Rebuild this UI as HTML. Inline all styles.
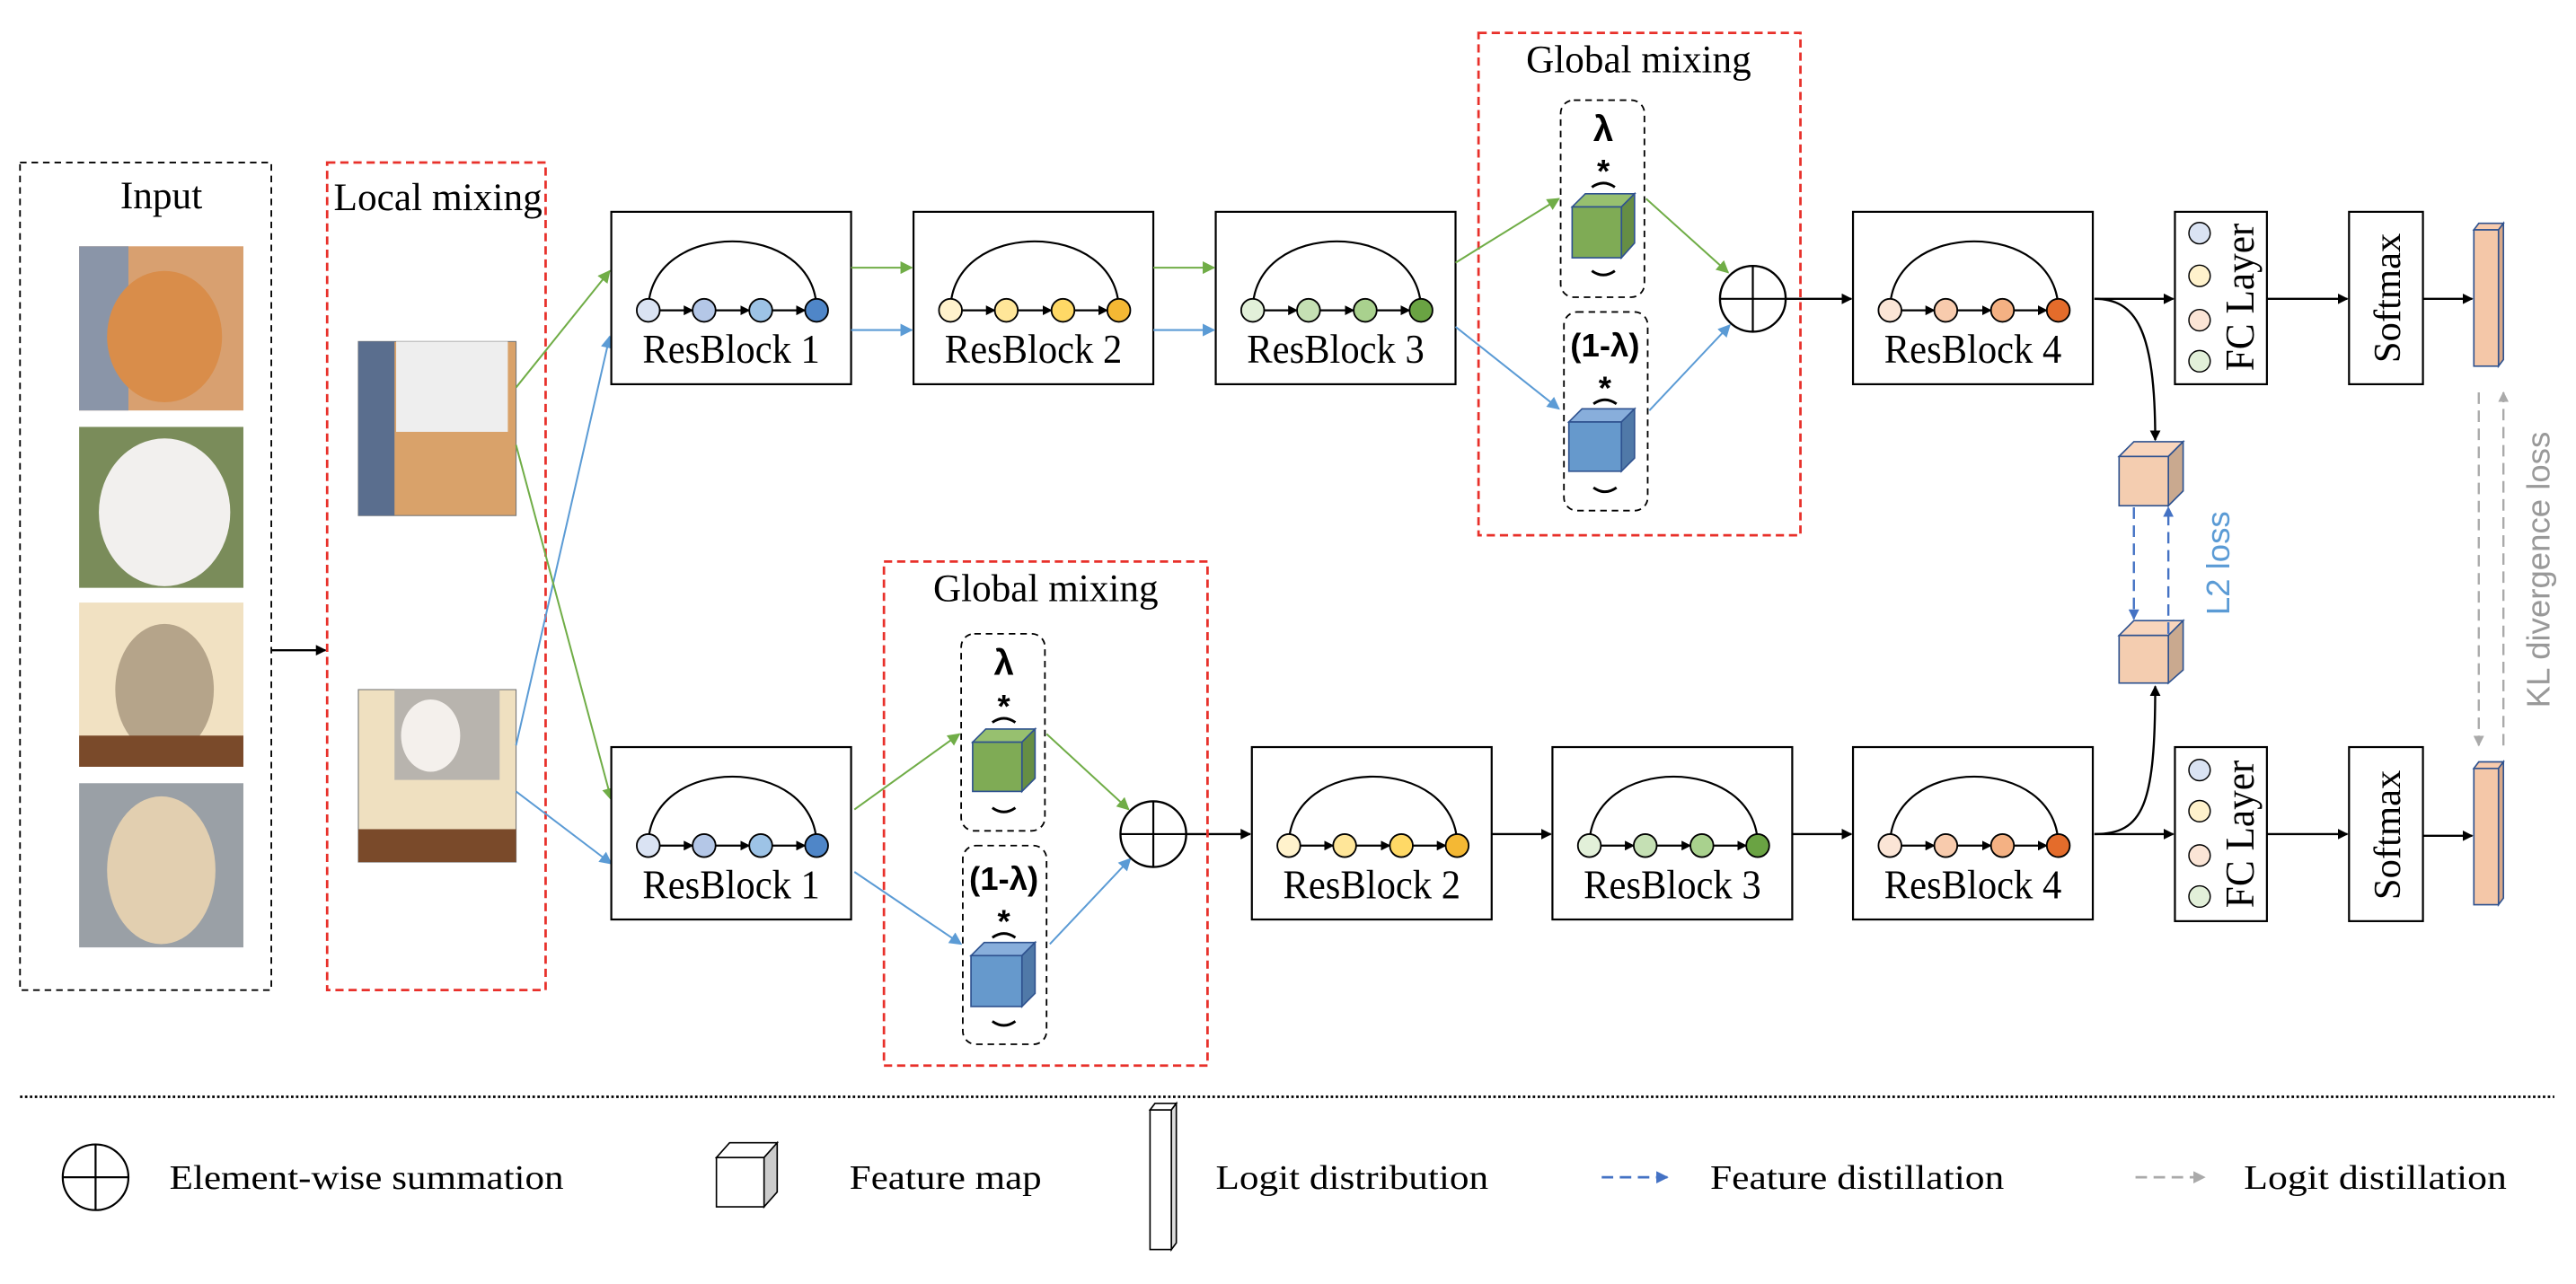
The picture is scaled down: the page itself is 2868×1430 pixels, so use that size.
<!DOCTYPE html>
<html><head><meta charset="utf-8"><style>
html,body{margin:0;padding:0;background:#fff;}
svg{display:block;}
.s{font-family:"Liberation Serif",serif;fill:#000;}
.a{font-family:"Liberation Sans",sans-serif;fill:#000;}
</style></head><body>
<svg width="2868" height="1430" viewBox="0 0 1568 782" xmlns="http://www.w3.org/2000/svg">
<defs>
<marker id="mk" viewBox="0 0 10 10" refX="9" refY="5" markerWidth="5" markerHeight="5" orient="auto"><path d="M0,0L10,5L0,10z" fill="#000"/></marker>
<marker id="mg" viewBox="0 0 10 10" refX="9" refY="5" markerWidth="7" markerHeight="7" orient="auto"><path d="M0,0L10,5L0,10z" fill="#70ad47"/></marker>
<marker id="mb" viewBox="0 0 10 10" refX="9" refY="5" markerWidth="7" markerHeight="7" orient="auto"><path d="M0,0L10,5L0,10z" fill="#5b9bd5"/></marker>
<marker id="md" viewBox="0 0 10 10" refX="9" refY="5" markerWidth="5" markerHeight="5" orient="auto"><path d="M0,0L10,5L0,10z" fill="#4472c4"/></marker>
<marker id="my" viewBox="0 0 10 10" refX="9" refY="5" markerWidth="5" markerHeight="5" orient="auto"><path d="M0,0L10,5L0,10z" fill="#aaa"/></marker>
<g id="rbarc">
<rect x="0" y="0" width="146" height="105" fill="#fff" stroke="#000" stroke-width="1.2"/>
<path d="M22.5,60 C22.5,4 125,4 125,60" fill="none" stroke="#000" stroke-width="1.2"/>
<line x1="29.5" y1="60" x2="49.5" y2="60" stroke="#000" stroke-width="1.2" marker-end="url(#mk)"/>
<line x1="63.5" y1="60" x2="84" y2="60" stroke="#000" stroke-width="1.2" marker-end="url(#mk)"/>
<line x1="98" y1="60" x2="118" y2="60" stroke="#000" stroke-width="1.2" marker-end="url(#mk)"/>
</g>
</defs>

<!-- Input -->
<rect x="12" y="99" width="153" height="504" fill="none" stroke="#000" stroke-width="1" stroke-dasharray="4,3"/>
<text class="s" x="73" y="127" font-size="24" textLength="50" lengthAdjust="spacingAndGlyphs">Input</text>
<rect x="48" y="150" width="100" height="100" fill="#d8a070"/>
<rect x="48" y="150" width="30" height="100" fill="#8a95a8"/>
<ellipse cx="100" cy="205" rx="35" ry="40" fill="#d98d4a"/>
<rect x="48" y="260" width="100" height="98" fill="#7a8c5a"/>
<ellipse cx="100" cy="312" rx="40" ry="45" fill="#f2f0ee"/>
<rect x="48" y="367" width="100" height="100" fill="#f1e1c2"/>
<ellipse cx="100" cy="420" rx="30" ry="40" fill="#b5a48a"/>
<rect x="48" y="448" width="100" height="19" fill="#7a4a2a"/>
<rect x="48" y="477" width="100" height="100" fill="#9aa0a6"/>
<ellipse cx="98" cy="530" rx="33" ry="45" fill="#e2cfb0"/>

<line x1="165" y1="396" x2="198" y2="396" stroke="#000" stroke-width="1.3" marker-end="url(#mk)"/>

<!-- Local mixing -->
<rect x="199" y="99" width="133" height="504" fill="none" stroke="#e8302a" stroke-width="1.5" stroke-dasharray="5,3"/>
<text class="s" x="203" y="128" font-size="24" textLength="127" lengthAdjust="spacingAndGlyphs">Local mixing</text>
<rect x="218" y="208" width="96" height="106" fill="#d9a26a" stroke="#777" stroke-width="0.6"/>
<rect x="218" y="208" width="22" height="106" fill="#5a6e8e"/>
<rect x="241" y="208" width="68" height="55" fill="#eeeeee"/>
<rect x="218" y="420" width="96" height="105" fill="#efe0c0" stroke="#777" stroke-width="0.6"/>
<rect x="240" y="420" width="64" height="55" fill="#b8b4ae"/>
<ellipse cx="262" cy="448" rx="18" ry="22" fill="#f4f0ec"/>
<rect x="218" y="505" width="96" height="20" fill="#7a4a2a"/>

<!-- mixing connectors -->
<line x1="314" y1="236" x2="371" y2="165" stroke="#70ad47" stroke-width="1.1" marker-end="url(#mg)"/>
<line x1="314" y1="454" x2="371" y2="205" stroke="#5b9bd5" stroke-width="1.1" marker-end="url(#mb)"/>
<line x1="314" y1="271" x2="372" y2="487" stroke="#70ad47" stroke-width="1.1" marker-end="url(#mg)"/>
<line x1="314" y1="482" x2="372" y2="526" stroke="#5b9bd5" stroke-width="1.1" marker-end="url(#mb)"/>

<!-- Top row ResBlocks -->
<g transform="translate(372,129)"><use href="#rbarc"/>
<circle cx="22.5" cy="60" r="7" fill="#dae3f3" stroke="#000"/><circle cx="56.5" cy="60" r="7" fill="#b4c7e7" stroke="#000"/><circle cx="91" cy="60" r="7" fill="#9dc3e6" stroke="#000"/><circle cx="125" cy="60" r="7" fill="#4f86c8" stroke="#000"/>
<text class="s" x="19" y="92" font-size="25" textLength="108" lengthAdjust="spacingAndGlyphs">ResBlock 1</text></g>
<g transform="translate(556,129)"><use href="#rbarc"/>
<circle cx="22.5" cy="60" r="7" fill="#fff2cc" stroke="#000"/><circle cx="56.5" cy="60" r="7" fill="#ffe699" stroke="#000"/><circle cx="91" cy="60" r="7" fill="#ffd966" stroke="#000"/><circle cx="125" cy="60" r="7" fill="#f4b834" stroke="#000"/>
<text class="s" x="19" y="92" font-size="25" textLength="108" lengthAdjust="spacingAndGlyphs">ResBlock 2</text></g>
<g transform="translate(740,129)"><use href="#rbarc"/>
<circle cx="22.5" cy="60" r="7" fill="#e2f0d9" stroke="#000"/><circle cx="56.5" cy="60" r="7" fill="#c5e0b4" stroke="#000"/><circle cx="91" cy="60" r="7" fill="#a9d18e" stroke="#000"/><circle cx="125" cy="60" r="7" fill="#6aa343" stroke="#000"/>
<text class="s" x="19" y="92" font-size="25" textLength="108" lengthAdjust="spacingAndGlyphs">ResBlock 3</text></g>
<g transform="translate(1128,129)"><use href="#rbarc"/>
<circle cx="22.5" cy="60" r="7" fill="#fbe5d6" stroke="#000"/><circle cx="56.5" cy="60" r="7" fill="#f8cbad" stroke="#000"/><circle cx="91" cy="60" r="7" fill="#f4b183" stroke="#000"/><circle cx="125" cy="60" r="7" fill="#e46c2b" stroke="#000"/>
<text class="s" x="19" y="92" font-size="25" textLength="108" lengthAdjust="spacingAndGlyphs">ResBlock 4</text></g>

<line x1="518" y1="163" x2="555" y2="163" stroke="#70ad47" stroke-width="1.1" marker-end="url(#mg)"/>
<line x1="518" y1="201" x2="555" y2="201" stroke="#5b9bd5" stroke-width="1.1" marker-end="url(#mb)"/>
<line x1="702" y1="163" x2="739" y2="163" stroke="#70ad47" stroke-width="1.1" marker-end="url(#mg)"/>
<line x1="702" y1="201" x2="739" y2="201" stroke="#5b9bd5" stroke-width="1.1" marker-end="url(#mb)"/>

<!-- Top global mixing -->
<rect x="900" y="20" width="196" height="306" fill="none" stroke="#e8302a" stroke-width="1.5" stroke-dasharray="5,3"/>
<text class="s" x="929" y="44" font-size="24" textLength="137" lengthAdjust="spacingAndGlyphs">Global mixing</text>
<rect x="950" y="61" width="51" height="120" rx="8" fill="none" stroke="#000" stroke-width="1" stroke-dasharray="4,3"/>
<rect x="952" y="190" width="51" height="121" rx="8" fill="none" stroke="#000" stroke-width="1" stroke-dasharray="4,3"/>
<text class="a" x="976" y="86" font-size="22" font-weight="bold" text-anchor="middle">λ</text>
<text class="a" x="976" y="111" font-size="20" font-weight="bold" text-anchor="middle">*</text>
<path d="M969,114 Q976,109 983,114" fill="none" stroke="#000" stroke-width="1.6"/>
<path d="M969,165 Q976,170 983,165" fill="none" stroke="#000" stroke-width="1.6"/>
<text class="a" x="977" y="217" font-size="20" font-weight="bold" text-anchor="middle">(1-λ)</text>
<text class="a" x="977" y="243" font-size="20" font-weight="bold" text-anchor="middle">*</text>
<path d="M970,246 Q977,241 984,246" fill="none" stroke="#000" stroke-width="1.6"/>
<path d="M970,297 Q977,302 984,297" fill="none" stroke="#000" stroke-width="1.6"/>
<g stroke="#2f528f" stroke-width="0.9">
<path d="M957,126 L965,118 L995,118 L987,126 Z" fill="#97c06f"/>
<path d="M987,126 L995,118 L995,148 L987,157 Z" fill="#668e44"/>
<rect x="957" y="126" width="30" height="31" fill="#7fab55"/>
<path d="M955,257 L963,249 L995,249 L987,257 Z" fill="#88aedb"/>
<path d="M987,257 L995,249 L995,279 L987,287 Z" fill="#5079a8"/>
<rect x="955" y="257" width="32" height="30" fill="#6699cc"/>
</g>
<line x1="886" y1="160" x2="949" y2="121" stroke="#70ad47" stroke-width="1.1" marker-end="url(#mg)"/>
<line x1="886" y1="199" x2="949" y2="249" stroke="#5b9bd5" stroke-width="1.1" marker-end="url(#mb)"/>
<line x1="1002" y1="121" x2="1052" y2="166" stroke="#70ad47" stroke-width="1.1" marker-end="url(#mg)"/>
<line x1="1004" y1="250" x2="1053" y2="198" stroke="#5b9bd5" stroke-width="1.1" marker-end="url(#mb)"/>
<circle cx="1067" cy="182" r="20" fill="#fff" stroke="#000" stroke-width="1.3"/>
<line x1="1047" y1="182" x2="1087" y2="182" stroke="#000" stroke-width="1.2"/>
<line x1="1067" y1="162" x2="1067" y2="202" stroke="#000" stroke-width="1.2"/>
<line x1="1087" y1="182" x2="1127" y2="182" stroke="#000" stroke-width="1.3" marker-end="url(#mk)"/>

<!-- Top FC / softmax / bar -->
<rect x="1324" y="129" width="56" height="105" fill="#fff" stroke="#000" stroke-width="1.2"/>
<circle cx="1339" cy="142" r="6.5" fill="#dae3f3" stroke="#000" stroke-width="0.8"/>
<circle cx="1339" cy="168" r="6.5" fill="#fff2cc" stroke="#000" stroke-width="0.8"/>
<circle cx="1339" cy="195" r="6.5" fill="#fbe5d6" stroke="#000" stroke-width="0.8"/>
<circle cx="1339" cy="220" r="6.5" fill="#e2f0d9" stroke="#000" stroke-width="0.8"/>
<text class="s" transform="translate(1372,226) rotate(-90)" font-size="25" textLength="90" lengthAdjust="spacingAndGlyphs">FC Layer</text>
<rect x="1430" y="129" width="45" height="105" fill="#fff" stroke="#000" stroke-width="1.2"/>
<text class="s" transform="translate(1461,221) rotate(-90)" font-size="23" textLength="79" lengthAdjust="spacingAndGlyphs">Softmax</text>
<g stroke="#2f528f" stroke-width="0.9">
<path d="M1506,140 L1509,136 L1524,136 L1521,140 Z" fill="#f8cbad"/>
<path d="M1521,140 L1524,136 L1524,219 L1521,223 Z" fill="#d9a888"/>
<rect x="1506" y="140" width="15" height="83" fill="#f4c7a8"/>
</g>
<line x1="1275" y1="182" x2="1323" y2="182" stroke="#000" stroke-width="1.3" marker-end="url(#mk)"/>
<line x1="1380" y1="182" x2="1429" y2="182" stroke="#000" stroke-width="1.3" marker-end="url(#mk)"/>
<line x1="1475" y1="182" x2="1505" y2="182" stroke="#000" stroke-width="1.3" marker-end="url(#mk)"/>
<path d="M1275,182 C1300,182 1312,200 1312,268" fill="none" stroke="#000" stroke-width="1.3" marker-end="url(#mk)"/>

<!-- feature cubes -->
<g stroke="#2f528f" stroke-width="0.9">
<path d="M1290,278 L1299,269 L1329,269 L1320,278 Z" fill="#f8d5bc"/>
<path d="M1320,278 L1329,269 L1329,299 L1320,308 Z" fill="#c9a98f"/>
<rect x="1290" y="278" width="30" height="30" fill="#f4cdb0"/>
<path d="M1290,387 L1299,378 L1329,378 L1320,387 Z" fill="#f8d5bc"/>
<path d="M1320,387 L1329,378 L1329,408 L1320,416 Z" fill="#c9a98f"/>
<rect x="1290" y="387" width="30" height="29" fill="#f4cdb0"/>
</g>
<line x1="1299" y1="309" x2="1299" y2="377" stroke="#4472c4" stroke-width="1.3" stroke-dasharray="7,4" marker-end="url(#md)"/>
<line x1="1320" y1="386" x2="1320" y2="309" stroke="#4472c4" stroke-width="1.3" stroke-dasharray="7,4" marker-end="url(#md)"/>
<text class="a" transform="translate(1357,343) rotate(-90)" font-size="20" style="fill:#5b9bd5" text-anchor="middle">L2 loss</text>
<line x1="1509" y1="239" x2="1509" y2="454" stroke="#aaa" stroke-width="1.3" stroke-dasharray="7,4" marker-end="url(#my)"/>
<line x1="1524" y1="454" x2="1524" y2="239" stroke="#aaa" stroke-width="1.3" stroke-dasharray="7,4" marker-end="url(#my)"/>
<text class="a" transform="translate(1552,347) rotate(-90)" font-size="20" style="fill:#999" text-anchor="middle">KL divergence loss</text>

<!-- Bottom row -->
<g transform="translate(372,455)"><use href="#rbarc"/>
<circle cx="22.5" cy="60" r="7" fill="#dae3f3" stroke="#000"/><circle cx="56.5" cy="60" r="7" fill="#b4c7e7" stroke="#000"/><circle cx="91" cy="60" r="7" fill="#9dc3e6" stroke="#000"/><circle cx="125" cy="60" r="7" fill="#4f86c8" stroke="#000"/>
<text class="s" x="19" y="92" font-size="25" textLength="108" lengthAdjust="spacingAndGlyphs">ResBlock 1</text></g>
<g transform="translate(762,455)"><use href="#rbarc"/>
<circle cx="22.5" cy="60" r="7" fill="#fff2cc" stroke="#000"/><circle cx="56.5" cy="60" r="7" fill="#ffe699" stroke="#000"/><circle cx="91" cy="60" r="7" fill="#ffd966" stroke="#000"/><circle cx="125" cy="60" r="7" fill="#f4b834" stroke="#000"/>
<text class="s" x="19" y="92" font-size="25" textLength="108" lengthAdjust="spacingAndGlyphs">ResBlock 2</text></g>
<g transform="translate(945,455)"><use href="#rbarc"/>
<circle cx="22.5" cy="60" r="7" fill="#e2f0d9" stroke="#000"/><circle cx="56.5" cy="60" r="7" fill="#c5e0b4" stroke="#000"/><circle cx="91" cy="60" r="7" fill="#a9d18e" stroke="#000"/><circle cx="125" cy="60" r="7" fill="#6aa343" stroke="#000"/>
<text class="s" x="19" y="92" font-size="25" textLength="108" lengthAdjust="spacingAndGlyphs">ResBlock 3</text></g>
<g transform="translate(1128,455)"><use href="#rbarc"/>
<circle cx="22.5" cy="60" r="7" fill="#fbe5d6" stroke="#000"/><circle cx="56.5" cy="60" r="7" fill="#f8cbad" stroke="#000"/><circle cx="91" cy="60" r="7" fill="#f4b183" stroke="#000"/><circle cx="125" cy="60" r="7" fill="#e46c2b" stroke="#000"/>
<text class="s" x="19" y="92" font-size="25" textLength="108" lengthAdjust="spacingAndGlyphs">ResBlock 4</text></g>
<line x1="722" y1="508" x2="761" y2="508" stroke="#000" stroke-width="1.3" marker-end="url(#mk)"/>
<line x1="908" y1="508" x2="944" y2="508" stroke="#000" stroke-width="1.3" marker-end="url(#mk)"/>
<line x1="1091" y1="508" x2="1127" y2="508" stroke="#000" stroke-width="1.3" marker-end="url(#mk)"/>

<!-- Bottom global mixing -->
<rect x="538" y="342" width="197" height="307" fill="none" stroke="#e8302a" stroke-width="1.5" stroke-dasharray="5,3"/>
<text class="s" x="568" y="366" font-size="24" textLength="137" lengthAdjust="spacingAndGlyphs">Global mixing</text>
<rect x="585" y="386" width="51" height="120" rx="8" fill="none" stroke="#000" stroke-width="1" stroke-dasharray="4,3"/>
<rect x="586" y="515" width="51" height="121" rx="8" fill="none" stroke="#000" stroke-width="1" stroke-dasharray="4,3"/>
<text class="a" x="611" y="411" font-size="22" font-weight="bold" text-anchor="middle">λ</text>
<text class="a" x="611" y="437" font-size="20" font-weight="bold" text-anchor="middle">*</text>
<path d="M604,440 Q611,435 618,440" fill="none" stroke="#000" stroke-width="1.6"/>
<path d="M604,492 Q611,497 618,492" fill="none" stroke="#000" stroke-width="1.6"/>
<text class="a" x="611" y="542" font-size="20" font-weight="bold" text-anchor="middle">(1-λ)</text>
<text class="a" x="611" y="568" font-size="20" font-weight="bold" text-anchor="middle">*</text>
<path d="M604,571 Q611,566 618,571" fill="none" stroke="#000" stroke-width="1.6"/>
<path d="M604,622 Q611,627 618,622" fill="none" stroke="#000" stroke-width="1.6"/>
<g stroke="#2f528f" stroke-width="0.9">
<path d="M592,452 L600,444 L630,444 L622,452 Z" fill="#97c06f"/>
<path d="M622,452 L630,444 L630,474 L622,482 Z" fill="#668e44"/>
<rect x="592" y="452" width="30" height="30" fill="#7fab55"/>
<path d="M591,582 L599,574 L630,574 L622,582 Z" fill="#88aedb"/>
<path d="M622,582 L630,574 L630,605 L622,613 Z" fill="#5079a8"/>
<rect x="591" y="582" width="31" height="31" fill="#6699cc"/>
</g>
<line x1="520" y1="493" x2="584" y2="447" stroke="#70ad47" stroke-width="1.1" marker-end="url(#mg)"/>
<line x1="520" y1="531" x2="585" y2="575" stroke="#5b9bd5" stroke-width="1.1" marker-end="url(#mb)"/>
<line x1="637" y1="447" x2="687" y2="493" stroke="#70ad47" stroke-width="1.1" marker-end="url(#mg)"/>
<line x1="639" y1="575" x2="688" y2="523" stroke="#5b9bd5" stroke-width="1.1" marker-end="url(#mb)"/>
<circle cx="702" cy="508" r="20" fill="#fff" stroke="#000" stroke-width="1.3"/>
<line x1="682" y1="508" x2="722" y2="508" stroke="#000" stroke-width="1.2"/>
<line x1="702" y1="488" x2="702" y2="528" stroke="#000" stroke-width="1.2"/>

<!-- bottom FC / softmax -->
<rect x="1324" y="455" width="56" height="106" fill="#fff" stroke="#000" stroke-width="1.2"/>
<circle cx="1339" cy="469" r="6.5" fill="#dae3f3" stroke="#000" stroke-width="0.8"/>
<circle cx="1339" cy="494" r="6.5" fill="#fff2cc" stroke="#000" stroke-width="0.8"/>
<circle cx="1339" cy="521" r="6.5" fill="#fbe5d6" stroke="#000" stroke-width="0.8"/>
<circle cx="1339" cy="546" r="6.5" fill="#e2f0d9" stroke="#000" stroke-width="0.8"/>
<text class="s" transform="translate(1372,553) rotate(-90)" font-size="25" textLength="90" lengthAdjust="spacingAndGlyphs">FC Layer</text>
<rect x="1430" y="455" width="45" height="106" fill="#fff" stroke="#000" stroke-width="1.2"/>
<text class="s" transform="translate(1461,548) rotate(-90)" font-size="23" textLength="79" lengthAdjust="spacingAndGlyphs">Softmax</text>
<g stroke="#2f528f" stroke-width="0.9">
<path d="M1506,468 L1509,464 L1524,464 L1521,468 Z" fill="#f8cbad"/>
<path d="M1521,468 L1524,464 L1524,547 L1521,551 Z" fill="#d9a888"/>
<rect x="1506" y="468" width="15" height="83" fill="#f4c7a8"/>
</g>
<line x1="1275" y1="508" x2="1323" y2="508" stroke="#000" stroke-width="1.3" marker-end="url(#mk)"/>
<line x1="1380" y1="508" x2="1429" y2="508" stroke="#000" stroke-width="1.3" marker-end="url(#mk)"/>
<line x1="1475" y1="509" x2="1505" y2="509" stroke="#000" stroke-width="1.3" marker-end="url(#mk)"/>
<path d="M1275,508 C1305,508 1312,490 1312,418" fill="none" stroke="#000" stroke-width="1.3" marker-end="url(#mk)"/>

<!-- Legend -->
<line x1="12" y1="668" x2="1555" y2="668" stroke="#000" stroke-width="1.5" stroke-dasharray="1.5,1.5"/>
<circle cx="58" cy="717" r="20" fill="#fff" stroke="#000" stroke-width="1.2"/>
<line x1="38" y1="717" x2="78" y2="717" stroke="#000" stroke-width="1.2"/>
<line x1="58" y1="697" x2="58" y2="737" stroke="#000" stroke-width="1.2"/>
<text class="s" x="103" y="724" font-size="21" textLength="240" lengthAdjust="spacingAndGlyphs">Element-wise summation</text>
<g stroke="#000" stroke-width="0.9">
<path d="M436,705 L444,696 L473,696 L465,705 Z" fill="#fff"/>
<path d="M465,705 L473,696 L473,726 L465,735 Z" fill="#ccc"/>
<rect x="436" y="705" width="29" height="30" fill="#fff"/>
</g>
<text class="s" x="517" y="724" font-size="21" textLength="117" lengthAdjust="spacingAndGlyphs">Feature map</text>
<g stroke="#000" stroke-width="0.9">
<path d="M700,676 L703,672 L716,672 L713,676 Z" fill="#fff"/>
<path d="M713,676 L716,672 L716,757 L713,761 Z" fill="#ddd"/>
<rect x="700" y="676" width="13" height="85" fill="#fff"/>
</g>
<text class="s" x="740" y="724" font-size="21" textLength="166" lengthAdjust="spacingAndGlyphs">Logit distribution</text>
<line x1="975" y1="717" x2="1015" y2="717" stroke="#4472c4" stroke-width="1.5" stroke-dasharray="7,4" marker-end="url(#md)"/>
<text class="s" x="1041" y="724" font-size="21" textLength="179" lengthAdjust="spacingAndGlyphs">Feature distillation</text>
<line x1="1300" y1="717" x2="1342" y2="717" stroke="#aaa" stroke-width="1.5" stroke-dasharray="7,4" marker-end="url(#my)"/>
<text class="s" x="1366" y="724" font-size="21" textLength="160" lengthAdjust="spacingAndGlyphs">Logit distillation</text>
</svg>
</body></html>
